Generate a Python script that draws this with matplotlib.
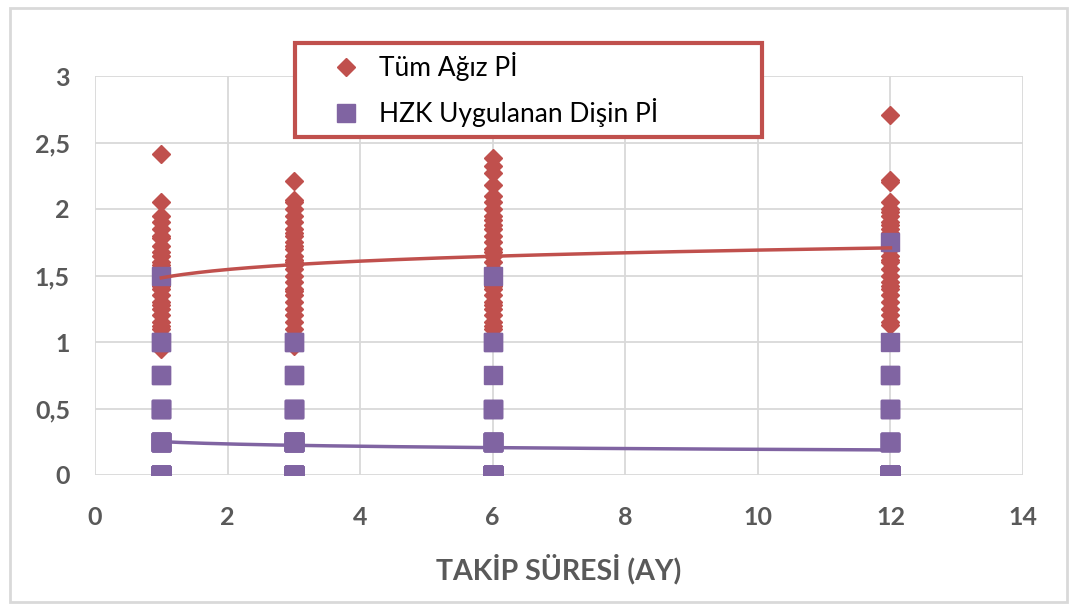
import numpy as np
import matplotlib
matplotlib.use('Agg')
import matplotlib.pyplot as plt
from matplotlib.patches import Rectangle

plt.rcParams['font.family'] = ['Lato', 'DejaVu Sans']

# follow-up months
months = [1, 3, 6, 12]

# Tüm Ağız Pİ values per month
whole_1 = [2.41, 2.05, 1.95, 1.9, 1.85, 1.8, 1.78, 1.72, 1.68, 1.65, 1.6, 1.58, 1.55, 1.5, 1.48,
           1.45, 1.42, 1.4, 1.35, 1.3, 1.28, 1.25, 1.2, 1.15, 1.12, 1.1, 1.05, 1.02, 1.0, 0.95]
whole_3 = [2.21, 2.07, 2.05, 2.0, 1.95, 1.9, 1.85, 1.82, 1.8, 1.75, 1.72, 1.7, 1.65, 1.62, 1.6,
           1.58, 1.55, 1.5, 1.45, 1.4, 1.38, 1.35, 1.3, 1.25, 1.2, 1.15, 1.1, 1.05, 1.0, 0.97]
whole_6 = [2.38, 2.32, 2.27, 2.18, 2.1, 2.05, 2.0, 1.95, 1.92, 1.88, 1.85, 1.8, 1.75, 1.7, 1.68,
           1.65, 1.6, 1.55, 1.5, 1.45, 1.42, 1.4, 1.35, 1.3, 1.28, 1.25, 1.2, 1.15, 1.12, 1.1]
whole_12 = [2.71, 2.22, 2.2, 2.05, 2.0, 1.98, 1.95, 1.9, 1.88, 1.85, 1.82, 1.8, 1.78, 1.75, 1.72,
            1.7, 1.65, 1.62, 1.6, 1.55, 1.5, 1.45, 1.42, 1.4, 1.35, 1.3, 1.25, 1.2, 1.15, 1.13]

# HZK Uygulanan Dişin Pİ: (value, count) per month
tooth_1 = [(1.5, 1), (1.0, 2), (0.75, 2), (0.5, 4), (0.25, 12), (0.0, 19)]
tooth_3 = [(1.0, 2), (0.75, 2), (0.5, 4), (0.25, 14), (0.0, 18)]
tooth_6 = [(1.5, 1), (1.0, 2), (0.75, 1), (0.5, 3), (0.25, 10), (0.0, 23)]
tooth_12 = [(1.75, 1), (1.0, 1), (0.75, 2), (0.5, 3), (0.25, 7), (0.0, 26)]

red = '#C0504D'
purple = '#8064A2'
gray_txt = '#595959'
grid_c = '#D9D9D9'

wx, wy = [], []
for m, vals in zip(months, [whole_1, whole_3, whole_6, whole_12]):
    wx += [m] * len(vals)
    wy += vals
wx, wy = np.array(wx, float), np.array(wy)

tx, ty = [], []
for m, pairs in zip(months, [tooth_1, tooth_3, tooth_6, tooth_12]):
    for v, n in pairs:
        tx += [m] * n
        ty += [v] * n
tx, ty = np.array(tx, float), np.array(ty)

fig = plt.figure(figsize=(10.69, 6.05), dpi=100)
ax = fig.add_axes([95 / 1069, 1 - 475 / 605, (1023 - 95) / 1069, (475 - 76) / 605])

ax.plot(wx, wy, 'D', color=red, ms=9, mec=red, ls='none', label='Tüm Ağız Pİ', zorder=3)
ax.plot(tx, ty, 's', color=purple, ms=13.5, mec=purple, ls='none', label='HZK Uygulanan Dişin Pİ', zorder=4)

# logarithmic trendlines (as Excel)
xs = np.linspace(1, 12, 200)
for x, y, c in [(wx, wy, red), (tx, ty, purple)]:
    b, a = np.polyfit(np.log(x), y, 1)
    ax.plot(xs, a + b * np.log(xs), color=c, lw=2.5, zorder=5)

ax.set_xlim(0, 14)
ax.set_ylim(0, 3)
ax.set_xticks(range(0, 15, 2))
ax.set_yticks([0, 0.5, 1, 1.5, 2, 2.5, 3])
ax.set_yticklabels(['0', '0,5', '1', '1,5', '2', '2,5', '3'])
ax.grid(True, color=grid_c, lw=1.3, zorder=0)
ax.set_axisbelow(True)
for s in ax.spines.values():
    s.set_visible(False)
ax.tick_params(axis='y', length=0, labelsize=18, labelcolor=gray_txt, pad=18)
ax.tick_params(axis='x', length=0, labelsize=18, labelcolor=gray_txt, pad=22)
for lbl in ax.get_xticklabels() + ax.get_yticklabels():
    lbl.set_fontweight('bold')
ax.set_xlabel('TAKİP SÜRESİ (AY)', fontsize=20.5, fontweight='bold', color=gray_txt, labelpad=18)

leg = ax.legend(loc='upper left', bbox_to_anchor=(295 / 1069, 1 - 43 / 605, 467 / 1069, 0.0),
                bbox_transform=fig.transFigure, mode='expand', fontsize=19, frameon=True,
                fancybox=False, framealpha=1, borderpad=0.35, labelspacing=0.65,
                handletextpad=-0.3, borderaxespad=0, handlelength=3.15)
leg.get_frame().set_edgecolor(red)
leg.get_frame().set_linewidth(3)
leg.set_zorder(10)

fig.patches.append(Rectangle((10 / 1069, 3 / 605), 1057 / 1069, 594 / 605, transform=fig.transFigure,
                             fill=False, edgecolor=grid_c, lw=2))

fig.savefig('out.png', dpi=100)
